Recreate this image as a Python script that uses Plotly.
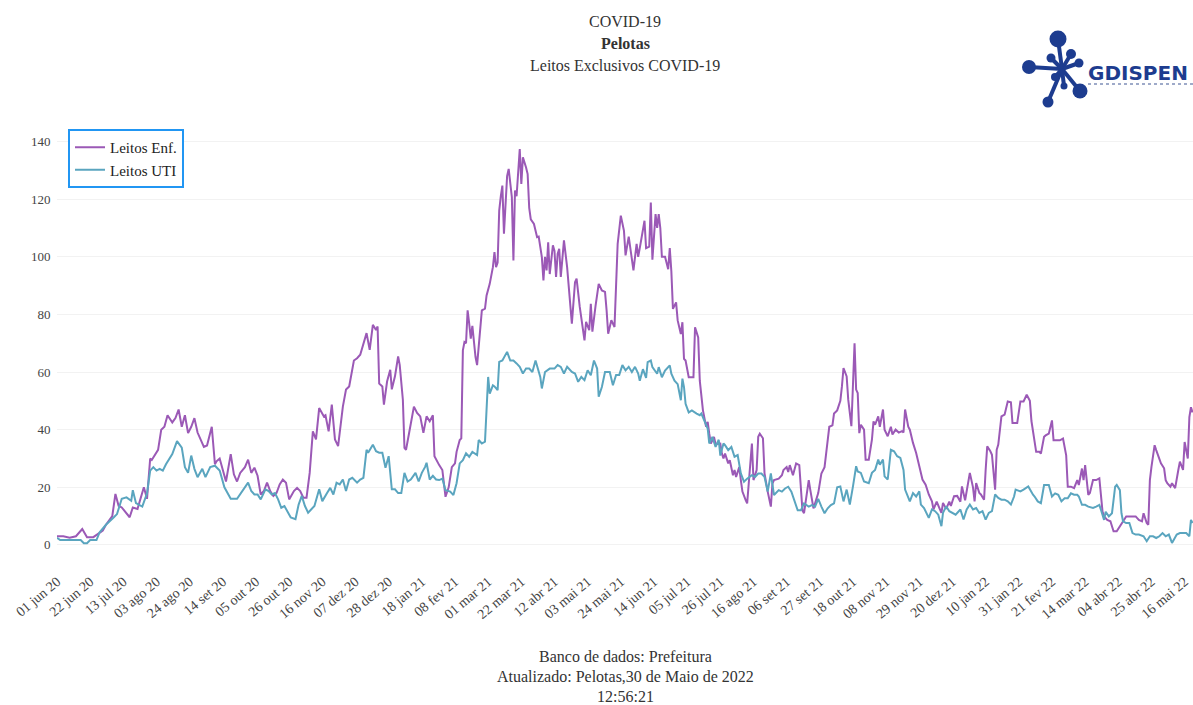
import pandas as pd
import plotly.graph_objects as go

START = pd.Timestamp("2020-06-01")

# Leitos Enf. (enfermaria) - days since 01 jun 2020 and occupied beds
enf_day = [0, 4, 8, 12, 16, 19, 23, 26, 29, 31, 35, 37, 39, 41, 44, 46, 48, 51, 55, 57, 59, 60, 64, 66, 68, 70, 73, 75, 77, 79, 81, 83, 85, 87, 89, 93, 95, 98, 100, 101, 103, 105, 107, 110, 112, 114,
           116, 119, 121, 123, 125, 127, 129, 131, 133, 135, 137, 139, 141, 143, 145, 147, 150, 152, 154, 156, 158, 160, 162, 164, 166, 169, 170, 172, 174, 176, 178, 179, 181, 183, 185, 188, 190, 192, 194, 196, 198, 200, 202, 203, 204, 206, 207, 209, 211, 212, 214, 216, 217, 219, 220, 221, 223, 226, 228, 230, 232, 234, 236, 238, 239, 241,
           242, 244, 246, 248, 250, 252, 253, 255, 256, 257, 258, 259, 260, 261, 262, 263, 265, 266, 267, 268, 269, 271, 272, 274, 276, 277, 278, 279, 280, 281, 282, 283, 285, 286, 288, 289, 290, 291, 293, 294, 295, 297, 298, 299, 300, 302, 304, 305, 307, 308, 309, 310, 311, 312, 314, 315, 316, 317, 318, 319, 320, 321, 323, 326, 328, 329, 331, 332, 334, 335, 337, 338, 339, 341, 343, 345, 347, 348, 349, 351, 353, 355, 357, 359, 360, 362, 364, 365, 367, 368,
           369, 371, 372, 373, 375, 376, 377, 379, 380, 381, 382, 383, 385, 387, 388, 389, 390, 392, 393, 395, 396, 397, 398, 400, 403, 404, 406, 407, 408, 409, 411, 412, 413, 414, 416, 417, 420, 421, 422, 423, 425, 426, 428, 429, 430, 432, 433, 434, 436, 437, 438, 440, 441, 443, 444, 445, 447, 448, 450, 452, 453, 454, 457, 459, 460, 462, 463, 464, 466, 468, 470, 471, 472, 473, 475, 476, 477, 479, 480, 482, 484, 486, 487, 489, 491, 492, 494,
           496, 497, 498, 500, 501, 503, 505, 506, 507, 508, 509, 511, 512, 514, 516, 517, 518, 520, 521, 523, 524, 526, 528, 529, 531, 533, 535, 536, 537, 539, 540, 542, 544, 546, 548, 550, 552, 554, 555, 557, 558, 560, 561, 563, 565, 566, 568, 570, 572, 573, 575, 577, 578, 580, 581, 582, 584, 585, 587, 588, 589, 591, 592, 594, 595, 596, 598, 600, 602, 604, 605, 607, 608, 610, 612, 614,
           616, 617, 618, 620, 622, 623, 625, 626, 628, 630, 631, 633, 635, 637, 639, 640, 642, 644, 646, 647, 649, 650, 651, 653, 654, 656, 658, 660, 662, 663, 665, 667, 669, 671, 673, 675, 677, 679, 681, 683, 685, 687, 688, 690, 691, 692, 693, 695, 696, 698, 699, 701, 702, 703, 705, 706, 708, 710, 711, 713, 714, 716, 717, 718, 719]
enf_val = [3, 3, 2.5, 3, 5.5, 2.7, 2.7, 4, 5, 7, 10, 17.7, 13.6, 13, 10.7, 9.6, 13, 12.5, 20, 16, 30, 29.5, 33, 40, 41, 45, 42.5, 44, 47, 41, 45, 38.8, 41, 44, 39, 34, 34.5, 41, 28, 29, 30, 25.8, 22, 31.5, 24.5, 22,
           25, 27, 29.6, 25, 26.8, 24, 17.5, 18.7, 21.6, 18.7, 17, 18, 21, 22.7, 21.6, 15.8, 18.7, 19.8, 18.7, 16.4, 16.4, 25, 39.4, 36.6, 47.5, 44.6, 45, 39.4, 48.7, 36.6, 34.3, 38.9, 48, 53.9, 55, 64, 64.8, 66, 70, 73.5, 67.7, 76.4, 74.6, 75.8, 56, 55, 48.7, 56.7, 60.8, 54, 58.5, 65.4, 62.5, 50.4, 33.7, 33, 39, 48, 45.8, 44.6, 38.9, 44.6, 42.9, 45, 30.8, 28.5,
           27.7, 26, 16.7, 20, 27, 28.3, 32.3, 36.4, 37, 67.5, 70.4, 70, 81.4, 76.8, 71.6, 76, 65.2, 62.4, 69.9, 76.2, 81.4, 82, 86.6, 90.6, 96.4, 101.6, 96.4, 98, 116, 121, 124.7, 108, 128, 130.5, 120.7, 98.7, 123, 121, 137.4, 125.3, 134.5, 131, 128.7, 117, 113, 111.4, 106.8, 107, 99.9, 91.8, 100, 95.3, 105, 94, 104, 102, 93, 101, 102.8, 93, 100, 105.7, 96.4, 76.8, 91.2, 92.4, 82.6, 79, 71, 77.4, 74.5, 83.7, 74, 83, 90.6, 88.3, 87.8, 81.4, 73.3, 78, 75.6, 104.5, 114.3, 109, 100.5, 107, 98, 95.3, 104.5, 100,
           103, 109, 112.5, 103, 103.5, 118.8, 99, 114.8, 110, 114.8, 110, 100, 100, 95.7, 103, 95, 81.9, 84.2, 77.9, 73.2, 77.3, 64.6, 64, 58.2, 58.2, 75.5, 72, 57, 51.3, 46.7, 41, 42.7, 38.6, 35.2, 37.5, 35, 35.2, 31.7, 30, 31.7, 28.3, 29.4, 24.2, 26, 23.6, 27, 22.5, 18.5, 15.6, 14.4, 21.3, 35.2, 22.5, 26, 37.5, 38.6, 37, 24.8, 18.5, 13.3, 21.3, 22.5, 23, 24.2, 26, 27, 25.3, 27.7, 24.2, 28.3, 27.7, 20.2, 12, 11, 18.5, 22.5, 19, 12.7, 14.4, 18, 24.8, 27, 31.7, 41, 41.5, 45.6, 46.7,
           50, 55, 61.4, 58.5, 50.4, 41.2, 70, 53.9, 52.7, 38.8, 41.7, 40, 29.6, 29.6, 36.5, 42.9, 41.7, 44.6, 41, 47, 40, 37.7, 41, 38.3, 40, 39, 39.5, 39, 47, 41, 40, 35.4, 31.9, 27.3, 22.7, 20.9, 17.5, 15.1, 12.3, 15, 13.5, 11.1, 14.6, 12.5, 15, 13.5, 16.9, 17, 15, 20.3, 15.5, 22.7, 25, 20, 15.1, 21.5, 18, 17.5, 15.7, 26, 34.2, 32.5, 31.3, 19.2, 33, 34.8, 44.6, 45.2, 49.8, 49.5, 42.3, 42.3, 42.3, 49.8, 49.8, 52.1,
           50, 43, 39.8, 32.3, 32.3, 31.7, 37.5, 38, 38.6, 43.2, 36.3, 36.3, 36.3, 36.9, 31.1, 20.2, 20.2, 19.7, 22.5, 20.8, 26.5, 22.5, 27.7, 17.4, 18, 22.5, 22.5, 23.1, 11.6, 9.9, 8.7, 8.2, 4.7, 4.7, 6.4, 8.2, 9.9, 9.9, 9.9, 9.9, 8.7, 8.2, 11, 7.6, 7, 22.5, 27.1, 34.6, 32.9, 29.4, 28.3, 26.6, 22.5, 21.4, 20.2, 21.4, 19.7, 26, 28.9, 26, 35.7, 30, 44.4, 47.8, 46]

# Leitos UTI - days since 01 jun 2020 and occupied beds
uti_day = [0, 2, 6, 10, 15, 17, 19, 21, 25, 27, 31, 36, 38, 41, 44, 47, 48, 50, 54, 57, 59, 61, 63, 65, 67, 69, 73, 76, 79, 81, 83, 85, 87, 89, 92, 94, 97, 100, 103, 106, 110, 114,
           116, 119, 121, 123, 125, 127, 129, 132, 134, 136, 138, 140, 142, 144, 146, 148, 151, 153, 155, 157, 159, 161, 163, 166, 168, 171, 173, 175, 177, 179, 181, 183, 185, 187, 190, 192, 194, 196, 197, 200, 202, 204, 206, 208, 210, 212, 214, 216, 218, 220, 222, 224, 227, 229, 231, 233, 234, 236, 238, 240,
           242, 244, 246, 249, 251, 253, 255, 257, 259, 261, 263, 266, 267, 269, 271, 273, 274, 276, 277, 279, 280, 282, 285, 287, 289, 291, 293, 295, 297, 299, 301, 303, 306, 307, 309, 312, 315, 317, 319, 321, 323, 326, 328, 330, 332, 334, 336, 338, 340, 342, 343, 345, 347, 350, 352, 354, 356, 358, 360, 362, 364, 366, 368,
           369, 371, 373, 374, 376, 377, 380, 381, 383, 385, 388, 389, 391, 393, 395, 396, 397, 398, 400, 402, 405, 407, 408, 410, 412, 413, 415, 417, 419, 420, 422, 423, 425, 427, 429, 431, 433, 435, 437, 440, 442, 444, 446, 448, 450, 452, 454, 457, 459, 461, 463, 465, 467, 469, 471, 473, 476, 478, 480, 482, 484, 486, 488, 490, 492, 494,
           496, 498, 500, 502, 504, 506, 507, 509, 511, 514, 516, 518, 520, 521, 523, 524, 526, 528, 530, 532, 534, 536, 537, 540, 542, 544, 546, 547, 549, 552, 554, 556, 558, 560, 561, 563, 565, 567, 569, 572, 574, 576, 578, 580, 582, 584, 586, 588, 590, 592, 594, 596, 598, 600, 602, 604, 606, 607, 610, 612, 614, 615,
           618, 619, 621, 623, 625, 627, 628, 630, 632, 634, 636, 638, 640, 642, 644, 646, 647, 649, 651, 653, 656, 658, 660, 661, 663, 664, 666, 668, 670, 671, 673, 674, 675, 677, 679, 681, 683, 685, 688, 690, 692, 694, 696, 698, 700, 702, 704, 706, 709, 711, 713, 715, 717, 718, 719]
uti_val = [2.5, 1.7, 1.7, 1.7, 1.7, 0.6, 0.6, 1.7, 1.7, 4.4, 7, 9.6, 10.7, 16, 16.5, 15.3, 19, 14.5, 13.3, 17.9, 25.8, 27, 25.8, 26.4, 25.8, 28, 31.5, 36, 33.8, 27, 25, 31, 26.4, 23.5, 26.4, 23.5, 27, 27.5, 25.8, 20, 16, 16,
           17.5, 19.8, 21.6, 18.7, 17.5, 17.5, 15.8, 19.3, 18.7, 17.5, 18, 15.8, 12.9, 13.5, 11.2, 9.5, 8.9, 14, 17, 13.5, 11.2, 12.4, 13.5, 19.3, 15.2, 18, 19.8, 17.5, 21.6, 21, 22.7, 18.7, 22.7, 23.3, 21.6, 22.7, 23.3, 33, 32, 34.8, 32.5, 32, 32, 26.8, 30.8, 19.3, 19.3, 18, 18, 25, 22, 22.7, 25, 22, 25, 27, 28.5, 22.7, 24, 22.7,
           22.5, 23, 19, 18.5, 17.3, 21.4, 28.3, 29.4, 31.8, 30.6, 32.3, 31.2, 36.4, 35.2, 35.8, 58.3, 52.5, 55.4, 55, 53.7, 63.5, 64, 67, 64, 64, 63, 61.8, 59.5, 61.2, 61.2, 60, 64, 58.3, 54.3, 60, 61.2, 61.2, 62.4, 61.8, 59.5, 61.8, 60, 59.5, 56.6, 58.3, 57.2, 60.6, 58.9, 64, 61.2, 51.4, 54.8, 60, 60, 55.4, 59, 59, 62.4, 60.6, 61.8, 60, 61.8, 59.5,
           57, 61, 58, 63.4, 64, 61.7, 59.4, 61.7, 58.2, 60.5, 62.3, 59.4, 57, 55.8, 50.2, 57.7, 54.8, 49, 46, 46.7, 45.6, 45, 45.6, 42.7, 40.4, 35.2, 37.5, 34, 36.5, 31, 35.2, 34.6, 32.9, 34, 30.6, 31.2, 24.8, 21.9, 23, 24.2, 23.6, 24.8, 24.8, 23.6, 18.5, 24.8, 17.3, 19, 18.5, 19.6, 20.2, 18.5, 15.6, 12, 12, 14.4, 13.3, 13.8, 13.3, 16, 13.3, 11, 12.7, 13.8, 14.4, 20,
           20.3, 15.1, 19.2, 14, 20.3, 27.3, 25.5, 25, 22, 21.4, 25, 26, 29.6, 27.8, 29.6, 23.8, 22.7, 33, 32.5, 30.8, 30.2, 26, 19.2, 15.1, 18, 16.8, 18.6, 14, 12.8, 9.4, 12.3, 11.7, 10.5, 6.5, 11.1, 13.4, 11.7, 11.1, 10.5, 12.3, 8.8, 12.3, 14, 12.3, 12.8, 11.1, 11.7, 8.8, 11.1, 11.7, 17.5, 16.3, 15.7, 15.7, 15.1, 14, 16.8, 19.2, 18.6, 19.2, 19.8, 20.3,
           17.4, 16.8, 15.1, 14.5, 20.8, 20.8, 20.8, 16.8, 17.9, 17.4, 15.1, 16.2, 16.2, 17.9, 17.4, 17.4, 16.8, 13.9, 13.9, 13.3, 12.8, 13.3, 13.9, 12.2, 8.7, 11.5, 9.9, 11, 20.2, 20.8, 19, 11, 8.2, 7.6, 7.6, 4.1, 3.6, 3.6, 3, 1.3, 3, 3, 2.4, 3, 4.1, 3, 3.6, 0.7, 3.6, 4.1, 4.1, 4.1, 3, 8.7, 7.6]

tick_dates = ["2020-06-01", "2020-06-22", "2020-07-13", "2020-08-03", "2020-08-24", "2020-09-14", "2020-10-05",
              "2020-10-26", "2020-11-16", "2020-12-07", "2020-12-28", "2021-01-18", "2021-02-08", "2021-03-01",
              "2021-03-22", "2021-04-12", "2021-05-03", "2021-05-24", "2021-06-14", "2021-07-05", "2021-07-26",
              "2021-08-16", "2021-09-06", "2021-09-27", "2021-10-18", "2021-11-08", "2021-11-29", "2021-12-20",
              "2022-01-10", "2022-01-31", "2022-02-21", "2022-03-14", "2022-04-04", "2022-04-25", "2022-05-16"]
tick_labels = ["01 jun 20", "22 jun 20", "13 jul 20", "03 ago 20", "24 ago 20", "14 set 20", "05 out 20",
               "26 out 20", "16 nov 20", "07 dez 20", "28 dez 20", "18 jan 21", "08 fev 21", "01 mar 21",
               "22 mar 21", "12 abr 21", "03 mai 21", "24 mai 21", "14 jun 21", "05 jul 21", "26 jul 21",
               "16 ago 21", "06 set 21", "27 set 21", "18 out 21", "08 nov 21", "29 nov 21", "20 dez 21",
               "10 jan 22", "31 jan 22", "21 fev 22", "14 mar 22", "04 abr 22", "25 abr 22", "16 mai 22"]
y_ticks = [0, 20, 40, 60, 80, 100, 120, 140]

enf_dates = START + pd.to_timedelta(enf_day, unit="D")
uti_dates = START + pd.to_timedelta(uti_day, unit="D")

PURPLE = "#9b59b6"
TEAL = "#5aa5bf"
SERIF = "Liberation Serif"
NAVY = "#1d3c8f"

fig = go.Figure()
fig.add_trace(go.Scatter(x=enf_dates, y=enf_val, mode="lines", name="Leitos Enf.",
                         line=dict(color=PURPLE, width=2)))
fig.add_trace(go.Scatter(x=uti_dates, y=uti_val, mode="lines", name="Leitos UTI",
                         line=dict(color=TEAL, width=2)))

W, H = 1193, 705
L, R, T, B = 57, 0, 130, 150
PW, PH = W - L - R, H - T - B


def px(xpage):
    return (xpage - L) / PW


def py(ypage):
    return (H - B - ypage) / PH


annotations = []
for txt, yy in [("COVID-19", 22), ("<b>Pelotas</b>", 44), ("Leitos Exclusivos COVID-19", 66)]:
    annotations.append(dict(text=txt, x=px(625), y=py(yy), xref="paper", yref="paper",
                            xanchor="center", yanchor="middle", showarrow=False,
                            font=dict(family=SERIF, size=16, color="#333")))
for txt, yy in [("Banco de dados: Prefeitura", 656), ("Atualizado: Pelotas,30 de Maio de 2022", 676.5),
                ("12:56:21", 696)]:
    annotations.append(dict(text=txt, x=px(625), y=py(yy), xref="paper", yref="paper",
                            xanchor="center", yanchor="middle", showarrow=False,
                            font=dict(family=SERIF, size=16, color="#333")))
annotations.append(dict(text="<b>GDISPEN</b>", x=px(1086), y=py(73), xref="paper", yref="paper",
                        xanchor="left", yanchor="middle", showarrow=False,
                        font=dict(family="DejaVu Sans", size=20, color=NAVY)))

# logo drawing (network of nodes)
hub = (1062, 69)
nodes = [((1058, 39), 8.5), ((1029, 67), 7.0), ((1080, 91), 7.5), ((1048, 102), 5.5),
         ((1071, 54), 5.0), ((1079, 63), 4.5), ((1051, 58), 4.5), ((1055, 77), 4.0), ((1064, 86), 3.5)]
shapes = []
for (cx, cy), r in nodes:
    shapes.append(dict(type="line", xref="paper", yref="paper", x0=px(hub[0]), y0=py(hub[1]),
                       x1=px(cx), y1=py(cy), line=dict(color=NAVY, width=4)))
for (cx, cy), r in nodes:
    shapes.append(dict(type="circle", xref="paper", yref="paper", x0=px(cx - r), x1=px(cx + r),
                       y0=py(cy + r), y1=py(cy - r), fillcolor=NAVY, line=dict(color=NAVY, width=0)))
shapes.append(dict(type="line", xref="paper", yref="paper", x0=px(1088), x1=px(1193), y0=py(84), y1=py(84),
                   line=dict(color="#7f8fb8", width=1.5, dash="dot")))

fig.update_layout(
    width=W, height=H,
    margin=dict(l=L, r=R, t=T, b=B, pad=0),
    paper_bgcolor="white", plot_bgcolor="white",
    showlegend=True,
    legend=dict(x=px(68), y=py(129), xanchor="left", yanchor="top",
                bordercolor="#2196f3", borderwidth=2, bgcolor="white",
                font=dict(family=SERIF, size=15, color="#222")),
    xaxis=dict(type="date", range=[START, START + pd.Timedelta(days=719.3)],
               tickmode="array", tickvals=tick_dates, ticktext=tick_labels, tickangle=-40,
               showgrid=False, zeroline=False, showline=False,
               ticks="outside", ticklen=12, tickcolor="rgba(0,0,0,0)",
               tickfont=dict(family=SERIF, size=14, color="#444")),
    yaxis=dict(range=[-3.5, 144], tickmode="array", tickvals=y_ticks,
               showgrid=True, gridcolor="#f2f2f2", gridwidth=1, zeroline=False, showline=False,
               ticks="outside", ticklen=3, tickcolor="rgba(0,0,0,0)",
               tickfont=dict(family=SERIF, size=13, color="#444")),
    annotations=annotations,
    shapes=shapes,
)

fig.write_html("out.html", config={"displayModeBar": False},
               post_script="document.body.style.margin='0';document.body.style.overflow='hidden';")
